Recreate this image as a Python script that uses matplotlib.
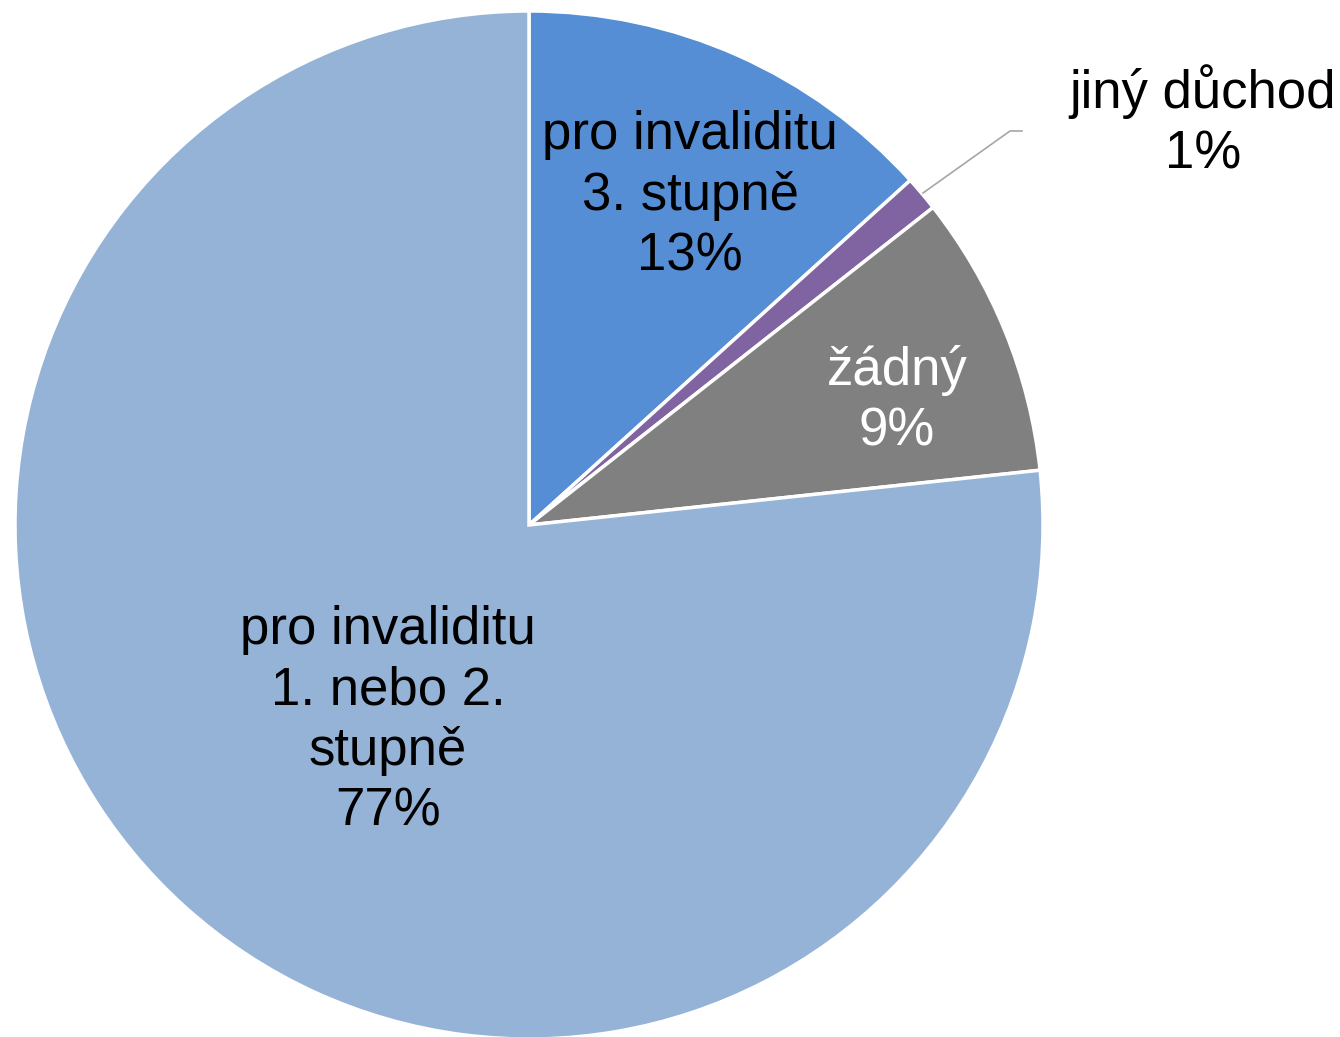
import matplotlib
matplotlib.use("Agg")
import matplotlib.pyplot as plt
import numpy as np

plt.rcParams['font.family'] = ['Liberation Sans', 'DejaVu Sans']

categories = ["pro invaliditu\n3. stupně", "jiný důchod", "žádný", "pro invaliditu\n1. nebo 2.\nstupně"]
values = [13.3, 1.1, 8.9, 76.7]
pct_labels = ["13%", "1%", "9%", "77%"]
colors = ["#558ED5", "#8064A2", "#808080", "#95B3D7"]
text_colors = ["black", "black", "white", "black"]

W, H = 1340, 1037
fig = plt.figure(figsize=(W / 100, H / 100), dpi=100)
cx, cy, R = 529, 525, 514
ax = fig.add_axes([(cx - R) / W, (H - cy - R) / H, 2 * R / W, 2 * R / H])
ax.set_aspect('equal')
ax.axis('off')

wedges, _ = ax.pie(values, colors=colors, startangle=90, counterclock=False,
                   radius=1, wedgeprops=dict(edgecolor='white', linewidth=2.5))
ax.set_xlim(-1, 1)
ax.set_ylim(-1, 1)

def px(x, y):
    return ((x - cx) / R, (cy - y) / R)

fs = 38
ls = 1.27
label_pos = [px(690, 196), None, px(897, 401), px(388, 721)]
for i, (cat, pct) in enumerate(zip(categories, pct_labels)):
    if label_pos[i] is None:
        continue
    x, y = label_pos[i]
    ax.text(x, y, cat + "\n" + pct, ha='center', va='center', fontsize=fs,
            color=text_colors[i], linespacing=ls)

# outside label for small slice
tx, ty = px(1203, 122)
ax.text(tx, ty, categories[1] + "\n" + pct_labels[1], ha='center', va='center',
        fontsize=fs, color='black', linespacing=ls, clip_on=False)
p0 = px(923, 193); p1 = px(1010, 131); p2 = px(1022, 131)
ax.plot([p0[0], p1[0], p2[0]], [p0[1], p1[1], p2[1]], color='#A6A6A6', lw=1.2, clip_on=False)

fig.savefig("out.png", dpi=100)
